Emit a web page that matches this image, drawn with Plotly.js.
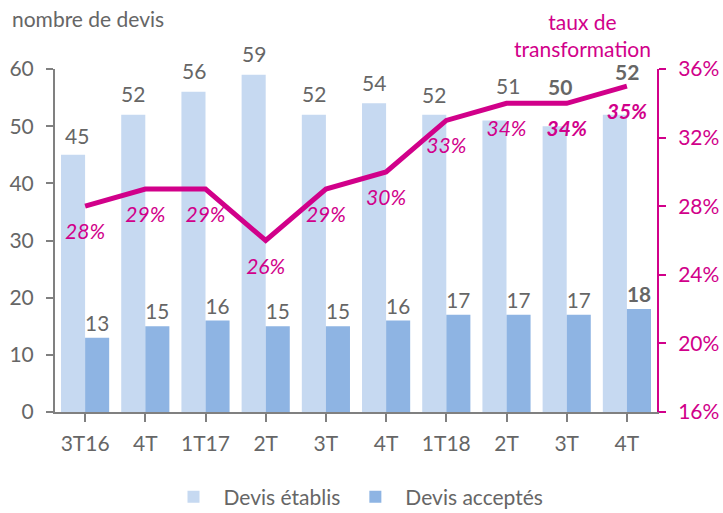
<!DOCTYPE html>
<html>
<head>
<meta charset="utf-8">
<script src="https://cdn.plot.ly/plotly-3.0.1.min.js"></script>
<style>html,body{margin:0;padding:0;background:#fff;}#chart{width:723px;height:513px;}</style>
</head>
<body>
<div id="chart"></div>
<script>
var categories = ['3T16','4T','1T17','2T','3T','4T','1T18','2T','3T','4T'];
var devisEtablis = [45, 52, 56, 59, 52, 54, 52, 51, 50, 52];
var devisAcceptes = [13, 15, 16, 15, 15, 16, 17, 17, 17, 18];
var tauxTransformation = [0.28, 0.29, 0.29, 0.26, 0.29, 0.30, 0.33, 0.34, 0.34, 0.35];
var boldEtablis = [false,false,false,false,false,false,false,false,true,true];
var boldAcceptes = [false,false,false,false,false,false,false,false,false,true];
var boldTaux = [false,false,false,false,false,false,false,false,true,true];

// label placement (style, in pixels): horizontal nudge and height of label centre above bar top
var etabLabelDx = [4, 0, 0, 0, 0, 0, 0, 13, 5, 12];
var etabLabelDy = [19, 21, 21, 21, 21, 21, 20, 35, 40, 43];

var xs = categories.map(function(c,i){ return i; });
var FONT = 'Lato, "Open Sans", sans-serif';
var GREY = '#666666';
var MAG = '#d1008a';
var FS = 21;

var tAcc = devisAcceptes.map(function(v,i){ return boldAcceptes[i] ? '<b>%{y}</b>' : '%{y}'; });
var tTaux = tauxTransformation.map(function(v,i){
  var s = Math.round(v*100) + '%';
  return boldTaux[i] ? '<b><i>' + s + '</i></b>' : '<i>' + s + '</i>';
});

var data = [
  {type:'bar', name:'Devis établis', x: xs, y: devisEtablis,
   marker:{color:'#c6d9f1'}, hoverinfo:'skip'},
  {type:'bar', name:'Devis acceptés', x: xs, y: devisAcceptes,
   marker:{color:'#8eb4e3'}, texttemplate: tAcc, textposition:'outside',
   textfont:{family:FONT, size:FS, color:GREY}, cliponaxis:false, hoverinfo:'skip'},
  {type:'scatter', mode:'lines+markers+text', name:'taux', x: xs, y: tauxTransformation, yaxis:'y2',
   line:{color:MAG, width:5}, marker:{size:26, opacity:0, color:MAG},
   text: tTaux, textposition:'bottom center', textfont:{family:FONT, size:FS, color:MAG},
   showlegend:false, cliponaxis:false, hoverinfo:'skip'}
];

var annotations = devisEtablis.map(function(v,i){
  var t = boldEtablis[i] ? '<b>' + v + '</b>' : String(v);
  return {xref:'x', yref:'y', x: xs[i], y: v, xshift: -12 + etabLabelDx[i], yshift: etabLabelDy[i],
    xanchor:'center', yanchor:'middle', text: t, showarrow:false,
    font:{family:FONT, size:FS, color:GREY}};
});
annotations.push(
  {xref:'paper', yref:'paper', x:-0.075, y:1.148, xanchor:'left', yanchor:'middle',
   text:'nombre de devis', showarrow:false, font:{family:FONT, size:21, color:GREY}},
  {xref:'paper', yref:'paper', x:0.877, y:1.10, xanchor:'center', yanchor:'middle',
   text:'taux de<br>transformation', showarrow:false, font:{family:FONT, size:21, color:MAG}}
);

var layout = {
  width:723, height:513,
  margin:{l:55, r:66, t:69, b:101, autoexpand:false},
  paper_bgcolor:'#fff', plot_bgcolor:'#fff',
  font:{family:FONT, size:FS, color:GREY},
  barmode:'group', bargap:0.2, bargroupgap:0,
  xaxis:{tickmode:'array', tickvals: xs, ticktext: categories, range:[-0.5, 9.5],
    showline:true, linecolor:'#808080', linewidth:2, ticks:'outside', ticklen:8, tickwidth:2, tickcolor:'#808080',
    tickson:'boundaries', showgrid:false, zeroline:false, ticklabelstandoff:4,
    tickfont:{family:FONT, size:FS, color:GREY}},
  yaxis:{range:[0,60], dtick:10, showline:true, linecolor:'#808080', linewidth:2, ticks:'outside',
    ticklen:7, tickwidth:2, tickcolor:'#808080', showgrid:false, zeroline:false, ticklabelstandoff:8,
    tickfont:{family:FONT, size:FS, color:GREY}},
  yaxis2:{range:[0.16,0.36], dtick:0.04, tickformat:'.0%', overlaying:'y', side:'right',
    showline:true, linecolor:MAG, linewidth:2, ticks:'outside', ticklen:7, tickwidth:2, tickcolor:MAG,
    showgrid:false, zeroline:false, ticklabelstandoff:8, tickfont:{family:FONT, size:FS, color:MAG}},
  showlegend:true,
  legend:{orientation:'h', x:0.5, xanchor:'center', y:-0.248, yanchor:'middle',
    font:{family:FONT, size:FS, color:GREY}, itemwidth:50, traceorder:'normal'},
  annotations: annotations
};

Plotly.newPlot('chart', data, layout, {displayModeBar:false, staticPlot:true});
</script>
</body>
</html>
